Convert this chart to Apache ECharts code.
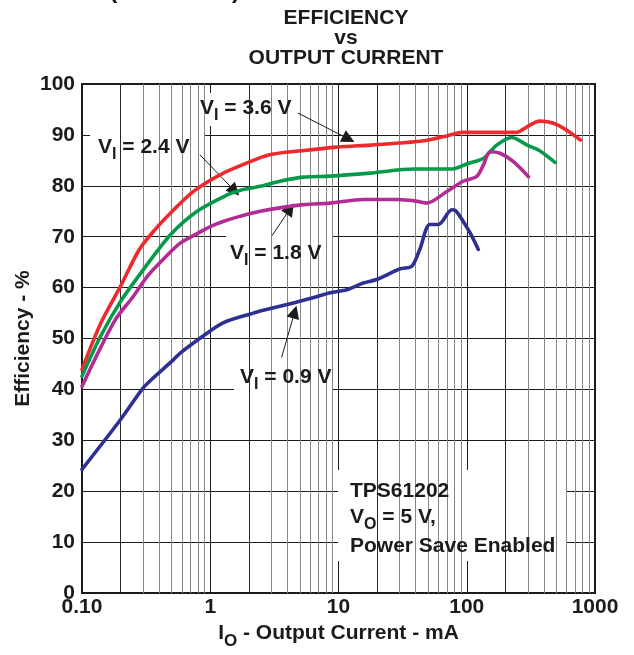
<!DOCTYPE html>
<html>
<head>
<meta charset="utf-8">
<script src="https://cdn.jsdelivr.net/npm/echarts@6/dist/echarts.min.js"></script>
<style>
html,body{margin:0;padding:0;background:#fff;}
#c{width:634px;height:655px;}
</style>
</head>
<body>
<div id="c"></div>
<script>
// ---- tick labels ----
const xTicks = [0.1, 1, 10, 100, 1000];
const xTickLabels = ['0.10', '1', '10', '100', '1000'];
const yTicks = [0, 10, 20, 30, 40, 50, 60, 70, 80, 90, 100];
const minorXDark = [0.2, 2, 20, 200];
const minorX = [0.3,0.4,0.5,0.6,0.7,0.8,0.9, 3,4,5,6,7,8,9, 30,40,50,60,70,80,90, 300,400,500,600,700,800,900];

// ---- series values: [output current mA, efficiency %] ----
const vi36 = [[0.1,43.9],[0.14,53.0],[0.2,60.3],[0.28,67.5],[0.38,71.7],[0.52,75.3],[0.74,78.9],[1.2,82.2],[1.9,84.4],[2.9,86.1],[5.2,86.9],[9.7,87.6],[17.6,88.0],[30,88.4],[48,88.9],[70,89.8],[93,90.5],[245,90.5],[295,91.6],[370,92.7],[505,92.0],[770,89.0]];
const vi24 = [[0.1,42.6],[0.14,50.5],[0.2,57.3],[0.3,63.5],[0.49,70.4],[0.79,75.0],[1.35,78.2],[1.7,79.1],[2.45,79.9],[3.5,80.9],[5.3,81.7],[8.6,81.9],[17.6,82.5],[38.8,83.3],[76.6,83.3],[100,84.3],[135,85.4],[171,88.0],[224,89.5],[295,88.0],[370,86.9],[488,84.6]];
const vi18 = [[0.1,40.6],[0.18,53.5],[0.25,58.2],[0.33,62.5],[0.46,66.3],[0.58,68.7],[0.79,70.6],[1.0,72.0],[1.26,73.0],[1.7,74.0],[2.45,75.0],[5.3,76.3],[8.6,76.6],[15.6,77.3],[28.6,77.3],[40,77.0],[48.6,76.6],[70,78.9],[93.5,80.9],[119,81.8],[135,84.1],[152,86.7],[182,86.4],[230,84.8],[303,81.8]];
const vi09 = [[0.1,24.3],[0.2,34.1],[0.3,40.3],[0.35,42.0],[0.52,45.9],[0.58,47.1],[0.88,50.5],[1.26,53.1],[2.17,55.0],[2.45,55.4],[4.45,57.0],[6.3,58.0],[8.6,59.0],[11.6,59.6],[15.6,60.9],[19.8,61.6],[30.3,63.7],[37.3,64.2],[43,67.5],[51.6,72.4],[60,72.4],[76.6,75.3],[83,75.0],[106,70.8],[123,67.5]];

// ---- annotation arrows: [start, end] in data units ----
const arrow36 = [[4.83,94.3],[12.0,89.2]];
const arrow24 = [[0.83,86.1],[1.55,79.0]];
const arrow18 = [[3.03,70.2],[4.2,75.5]];
const arrow09 = [[3.6,46.3],[4.55,55.2]];

const FONT = "'Liberation Sans', Arial, Helvetica, sans-serif";
const INK = '#1c1a1b';

const chart = echarts.init(document.getElementById('c'), null, {renderer: 'canvas'});

function curve(name, data, color) {
  return {
    name, type: 'line', data, z: 5,
    showSymbol: false, symbol: 'none',
    smooth: 0.3,
    lineStyle: {color, width: 3.6, join: 'round', cap: 'round'},
    silent: true
  };
}

const sub = {fontSize: 16, fontWeight: 'bold', fontFamily: FONT, fill: INK, padding: [16, 0, 0, 0]};

function label(text, x, y) {
  return {
    type: 'text', x, y, z: 20,
    style: {
      text, fill: INK, font: 'bold 21px ' + FONT,
      textVerticalAlign: 'middle', verticalAlign: 'middle',
      rich: {
        m: {fontSize: 21, fontWeight: 'bold', fontFamily: FONT, fill: INK},
        sub: sub
      }
    }
  };
}
function box(x1, y1, x2, y2) {
  return {type: 'rect', z: 3, shape: {x: x1, y: y1, width: x2 - x1, height: y2 - y1}, style: {fill: '#fff'}};
}
function gridLines(name, values, color) {
  return {
    name, type: 'line', data: [[1, -50]], z: 1, symbol: 'none', silent: true,
    lineStyle: {opacity: 0},
    markLine: {
      silent: true, symbol: 'none', animation: false,
      label: {show: false},
      lineStyle: {color, width: 1, type: 'solid'},
      data: values.map(v => ({xAxis: v}))
    }
  };
}

const option = {
  animation: false,
  backgroundColor: '#fff',
  grid: {left: 82, right: 39, top: 84, bottom: 61, show: true, borderColor: INK, borderWidth: 2, backgroundColor: 'transparent'},
  xAxis: {
    type: 'log', logBase: 10, min: 0.1, max: 1000,
    name: '{m|I}{sub|O}{m| - Output Current - mA}',
    nameLocation: 'middle', nameGap: 22,
    nameTextStyle: {
      color: INK, fontSize: 21, fontWeight: 'bold', fontFamily: FONT,
      rich: {
        m: {fontSize: 21, fontWeight: 'bold', fontFamily: FONT, color: INK},
        sub: {fontSize: 17, fontWeight: 'bold', fontFamily: FONT, color: INK, padding: [16, 0, 0, 0]}
      }
    },
    axisLine: {show: false},
    axisTick: {show: false},
    axisLabel: {
      color: INK, fontSize: 21, fontWeight: 'bold', fontFamily: FONT, margin: 4,
      formatter: function (v) {
        const i = xTicks.findIndex(t => Math.abs(Math.log10(t) - Math.log10(v)) < 1e-6);
        return i >= 0 ? xTickLabels[i] : '';
      }
    },
    splitLine: {show: true, lineStyle: {color: INK, width: 1}},
    minorSplitLine: {show: false}
  },
  yAxis: {
    type: 'value', min: yTicks[0], max: yTicks[yTicks.length - 1], interval: 10,
    name: 'Efficiency - %', nameLocation: 'middle', nameGap: 48, nameRotate: 90,
    nameMoveOverlap: false,
    nameTextStyle: {color: INK, fontSize: 21, fontWeight: 'bold', fontFamily: FONT},
    axisLine: {show: false},
    axisTick: {show: false},
    axisLabel: {color: INK, fontSize: 21, fontWeight: 'bold', fontFamily: FONT, margin: 7},
    splitLine: {show: true, lineStyle: {color: INK, width: 1}}
  },
  series: [
    gridLines('minor', minorX, '#858585'),
    gridLines('minor2', minorXDark, '#2a2a2a'),
    curve('VI = 3.6 V', vi36, '#ee2a2e'),
    curve('VI = 2.4 V', vi24, '#06994b'),
    curve('VI = 1.8 V', vi18, '#b22c94'),
    curve('VI = 0.9 V', vi09, '#2e3191'),
    {
      name: 'arrows', type: 'line', data: [[1, -50]], z: 6, symbol: 'none', silent: true,
      lineStyle: {opacity: 0},
      markLine: {
        silent: true, animation: false,
        symbol: ['none', 'triangle'], symbolSize: 13,
        label: {show: false},
        lineStyle: {color: INK, width: 1, type: 'solid'},
        itemStyle: {color: INK},
        data: [arrow36, arrow24, arrow18, arrow09].map(a => [{coord: a[0]}, {coord: a[1]}])
      }
    }
  ],
  graphic: [
    {type: 'text', x: 240, y: -9, z: 20, style: {text: 'TYPICAL CHARACTERISTICS (continued)', fill: INK, font: 'bold 24px ' + FONT, textAlign: 'right', align: 'right', verticalAlign: 'middle', textVerticalAlign: 'middle'}},
    {type: 'text', x: 346, y: 18, z: 20, style: {text: 'EFFICIENCY', fill: INK, font: 'bold 21px ' + FONT, align: 'center', textAlign: 'center', verticalAlign: 'middle', textVerticalAlign: 'middle'}},
    {type: 'text', x: 346, y: 38, z: 20, style: {text: 'vs', fill: INK, font: 'bold 21px ' + FONT, align: 'center', textAlign: 'center', verticalAlign: 'middle', textVerticalAlign: 'middle'}},
    {type: 'text', x: 346, y: 58, z: 20, style: {text: 'OUTPUT CURRENT', fill: INK, font: 'bold 21px ' + FONT, align: 'center', textAlign: 'center', verticalAlign: 'middle', textVerticalAlign: 'middle'}},
    box(195, 93, 298, 126),
    box(90, 131, 205, 164),
    box(226, 235, 332, 270),
    box(234, 357, 333, 393),
    box(338, 470, 566, 561),
    label('{m|V}{sub|I}{m| = 3.6 V}', 200, 108),
    label('{m|V}{sub|I}{m| = 2.4 V}', 98, 147),
    label('{m|V}{sub|I}{m| = 1.8 V}', 230, 253),
    label('{m|V}{sub|I}{m| = 0.9 V}', 240, 377),
    label('{m|TPS61202}', 350, 491),
    label('{m|V}{sub|O}{m| = 5 V,}', 350, 517),
    label('{m|Power Save Enabled}', 350, 546)
  ]
};
chart.setOption(option);
</script>
</body>
</html>
